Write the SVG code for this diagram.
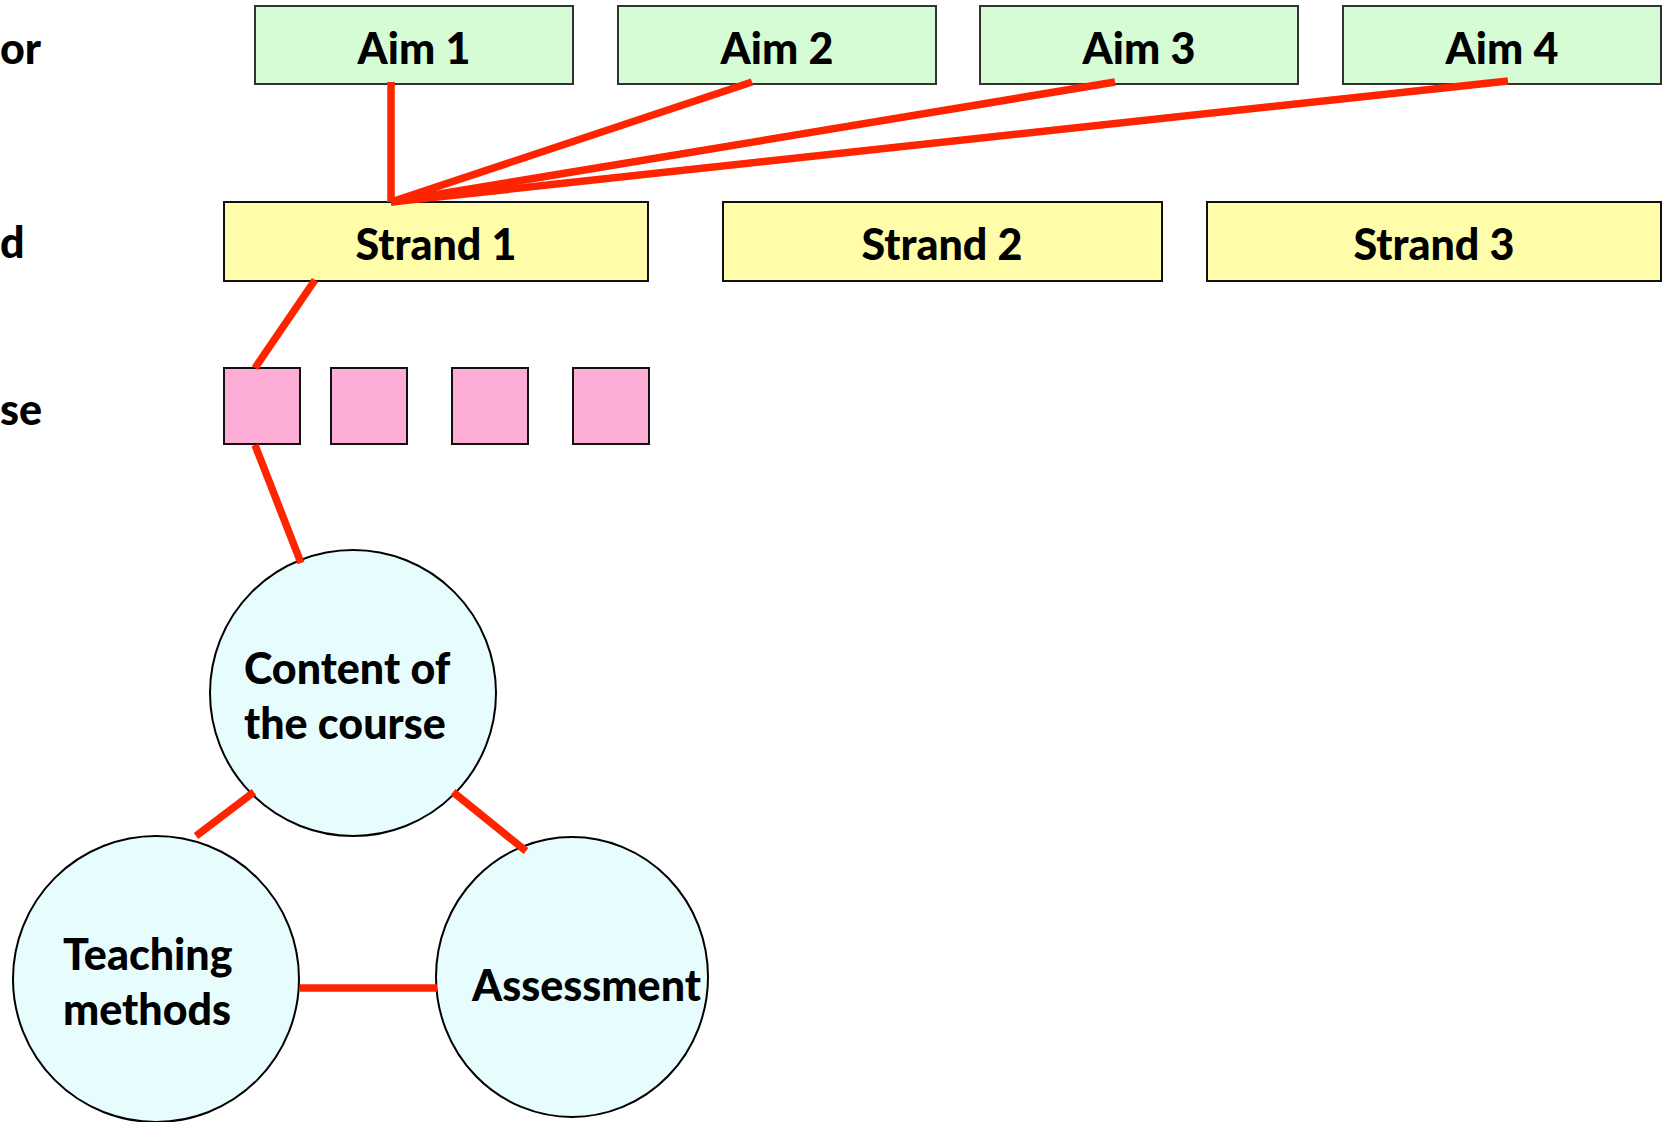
<svg xmlns="http://www.w3.org/2000/svg" width="1666" height="1122" viewBox="0 0 1666 1122">
<style>
text{font-family:Lato,"Open Sans","Liberation Sans",sans-serif;font-weight:900;fill:#000}
.aim{fill:#D5FCD5;stroke:#333;stroke-width:2}
.strand{fill:#FFFCAA;stroke:#111;stroke-width:2}
.sq{fill:#FDADD6;stroke:#111;stroke-width:2}
.circ{fill:#E7FDFD;stroke:#000;stroke-width:2}
.lbl{font-size:43px}
.big{font-size:43px}
.conn line{stroke:#FF2400;stroke-width:7.5}
</style>
<rect width="1666" height="1122" fill="#fff"/>
<g id="side-labels">
<text class="lbl" x="0" y="64">or</text>
<text class="lbl" x="0" y="258">d</text>
<text class="lbl" x="0" y="425">se</text>
</g>
<g id="aim1"><rect class="aim" x="255" y="6" width="318" height="78"/><text class="big" x="414" y="64" text-anchor="middle">Aim 1</text></g>
<g id="aim2"><rect class="aim" x="618" y="6" width="318" height="78"/><text class="big" x="777" y="64" text-anchor="middle">Aim 2</text></g>
<g id="aim3"><rect class="aim" x="980" y="6" width="318" height="78"/><text class="big" x="1139" y="64" text-anchor="middle">Aim 3</text></g>
<g id="aim4"><rect class="aim" x="1343" y="6" width="318" height="78"/><text class="big" x="1502" y="64" text-anchor="middle">Aim 4</text></g>
<g id="strand1"><rect class="strand" x="224" y="202" width="424" height="79"/><text class="big" x="436" y="260" text-anchor="middle">Strand 1</text></g>
<g id="strand2"><rect class="strand" x="723" y="202" width="439" height="79"/><text class="big" x="942" y="260" text-anchor="middle">Strand 2</text></g>
<g id="strand3"><rect class="strand" x="1207" y="202" width="454" height="79"/><text class="big" x="1434" y="260" text-anchor="middle">Strand 3</text></g>
<g id="unit1"><rect class="sq" x="224" y="368" width="76" height="76"/></g>
<g id="unit2"><rect class="sq" x="331" y="368" width="76" height="76"/></g>
<g id="unit3"><rect class="sq" x="452" y="368" width="76" height="76"/></g>
<g id="unit4"><rect class="sq" x="573" y="368" width="76" height="76"/></g>
<g id="content"><ellipse class="circ" cx="353" cy="693" rx="143" ry="143"/><text class="big" x="244" y="684">Content of</text><text class="big" x="244" y="739">the course</text></g>
<g id="teaching"><ellipse class="circ" cx="156" cy="979" rx="143" ry="143"/><text class="big" x="63" y="970">Teaching</text><text class="big" x="63" y="1025">methods</text></g>
<g id="assessment"><ellipse class="circ" cx="572" cy="977" rx="136" ry="140"/><text class="big" x="472" y="1001">Assessment</text></g>
<g id="connectors" class="conn">
<line x1="391" y1="82" x2="391" y2="202"/>
<line x1="752" y1="82" x2="391" y2="202"/>
<line x1="1115" y1="82" x2="391" y2="202"/>
<line x1="1508" y1="81" x2="391" y2="202"/>
<line x1="315" y1="280" x2="255" y2="368"/>
<line x1="255" y1="445" x2="301" y2="563"/>
<line x1="254" y1="792" x2="196" y2="836"/>
<line x1="453" y1="792" x2="526" y2="851"/>
<line x1="300" y1="988" x2="437" y2="988"/>
</g>
</svg>
